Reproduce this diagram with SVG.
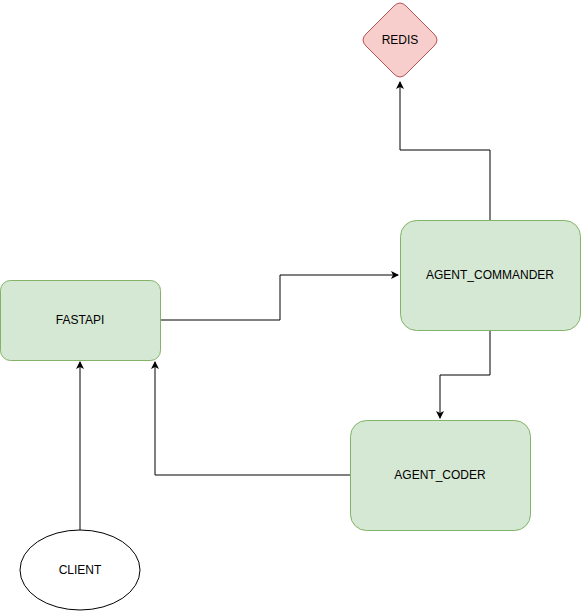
<svg xmlns="http://www.w3.org/2000/svg" width="581" height="611" viewBox="0 0 581 611">
<style>
.g{fill:#d5e8d4;stroke:#82b366;stroke-width:1}
.r{fill:#f8cecc;stroke:#b85450;stroke-width:1}
.w{fill:#ffffff;stroke:#000000;stroke-width:1}
.e{fill:none;stroke:#000000;stroke-width:1}
text{font-family:"Liberation Sans",Arial,sans-serif;font-size:12px;fill:#000000;text-anchor:middle;dominant-baseline:central}
</style>
<defs>
<marker id="a" markerWidth="10" markerHeight="10" refX="7" refY="4" orient="auto" markerUnits="userSpaceOnUse" viewBox="0 0 10 8">
<path d="M0,0 L8,4 L0,8 L2,4 Z" fill="#000000"/>
</marker>
</defs>
<rect width="581" height="611" fill="#ffffff"/>
<g id="connectors">
<path class="e" d="M490,220 V150 H400 V82" marker-end="url(#a)"/>
<path class="e" d="M160,320 H280 V275 H398" marker-end="url(#a)"/>
<path class="e" d="M490,330 V375 H440 V418" marker-end="url(#a)"/>
<path class="e" d="M350,475 H155 V362" marker-end="url(#a)"/>
<path class="e" d="M80,530 V362" marker-end="url(#a)"/>
</g>
<g id="redis">
<path class="r" d="M394,6 Q400,0 406,6 L434,34 Q440,40 434,46 L406,74 Q400,80 394,74 L366,46 Q360,40 366,34 Z"/>
<text x="400" y="40">REDIS</text>
</g>
<g id="fastapi">
<rect class="g" x="0.5" y="280.5" width="160" height="80" rx="10"/>
<text x="80" y="320">FASTAPI</text>
</g>
<g id="agent_commander">
<rect class="g" x="400.5" y="220.5" width="180" height="110" rx="16"/>
<text x="490" y="275">AGENT_COMMANDER</text>
</g>
<g id="agent_coder">
<rect class="g" x="350.5" y="420.5" width="180" height="110" rx="16"/>
<text x="440" y="475">AGENT_CODER</text>
</g>
<g id="client">
<ellipse class="w" cx="80" cy="570" rx="60" ry="40"/>
<text x="80" y="570">CLIENT</text>
</g>
</svg>
